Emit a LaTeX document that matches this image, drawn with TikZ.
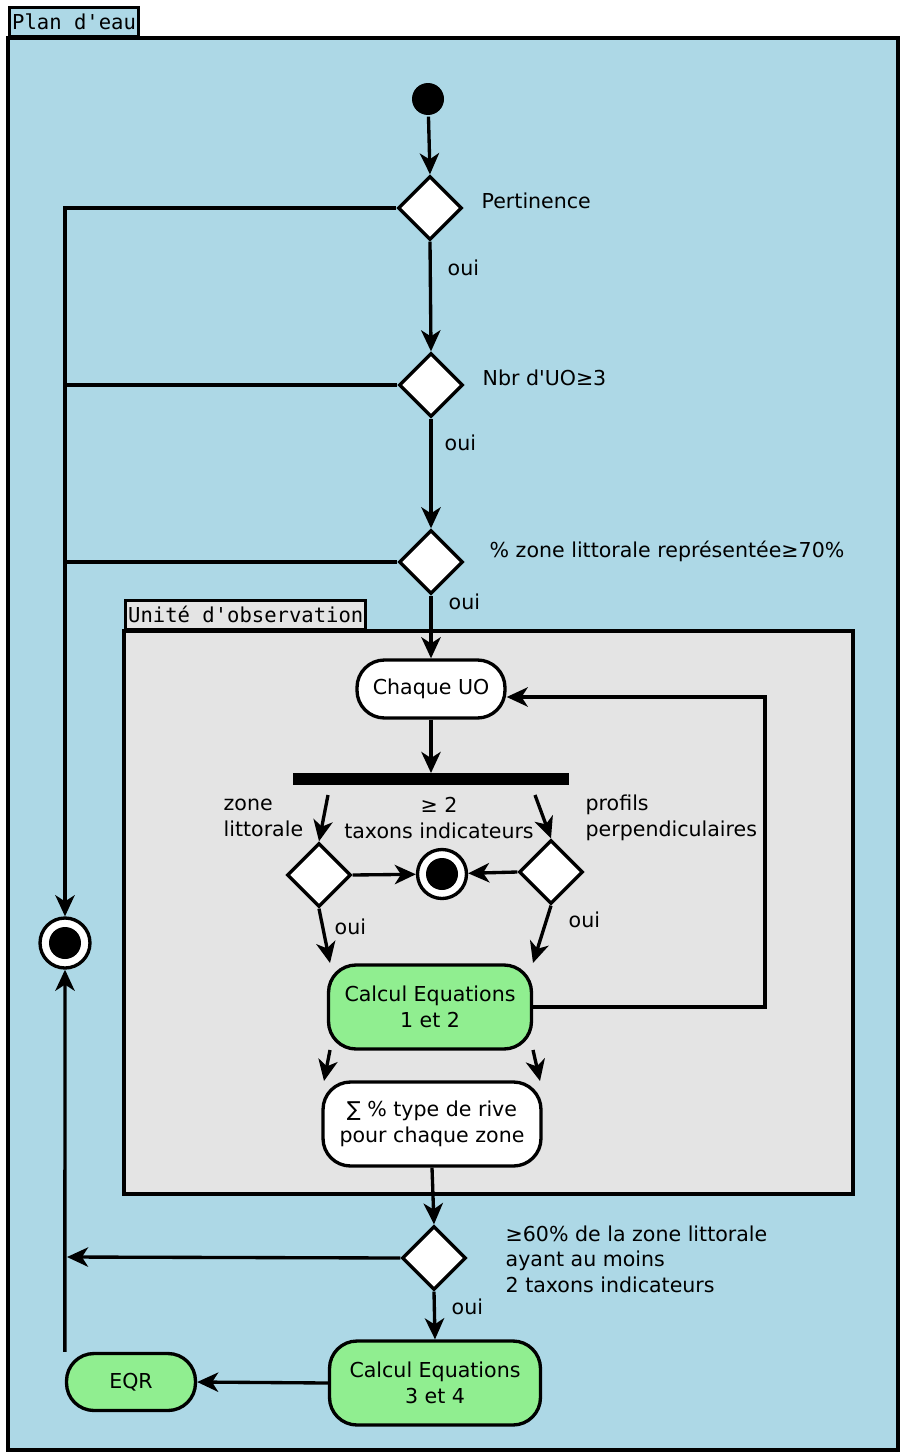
\documentclass[tikz,border=0pt]{standalone}
\usepackage{fontspec}
\setmainfont{DejaVu Sans}
\setmonofont{DejaVu Sans Mono}
\usetikzlibrary{arrows.meta, shapes.geometric}
\definecolor{eau}{HTML}{ADD8E6}
\definecolor{uo}{HTML}{E4E4E4}
\definecolor{calc}{HTML}{90EE90}
\tikzstyle{decision} = [diamond, draw, fill=white, aspect=1, inner sep=0pt,
    minimum width=1.28cm, minimum height=1.28cm]
\tikzstyle{action} = [rectangle, draw, fill=white, align=center,
    rounded corners=0.55cm, minimum height=1.68cm]
\tikzstyle{tab} = [rectangle, draw, font=\ttfamily\fontsize{11.7}{14}\selectfont,
    inner xsep=1.4pt, minimum height=0.58cm, anchor=south west]

\begin{document}
\begin{tikzpicture}[
x=0.02cm, y=-0.02cm,
line width=1.9pt,
every node/.style = {font=\fontsize{11.7}{14.6}\selectfont},
arr/.style = {-{Stealth[length=12pt, width=11pt, inset=3.5pt]}},
lbl/.style = {align=left, anchor=west, inner sep=0pt},
start/.style = {circle, fill=black, minimum size=0.64cm, inner sep=0pt},
stop/.style = {circle, draw, fill=white, minimum size=1cm, inner sep=0pt,
    path picture={\fill[black] (path picture bounding box.center) circle (0.32cm);}}
                        ]
\useasboundingbox (0,0) rectangle (901,1453);
% frames
\filldraw[fill=eau] (8,38) rectangle (898,1450);
\node[tab, fill=eau] (plan) at (8,38) {Plan d\textquotesingle eau};
\filldraw[fill=uo] (124,631) rectangle (853,1194);
\node[tab, fill=uo] (unite) at (124,631) {Unité d\textquotesingle observation};

% main column
\node [start] (debut) at (428,99) {};
\node [decision] (pert) at (430,208) {};
\node [decision] (nbr) at (431,385) {};
\node [decision] (zone) at (431,562) {};
\node [lbl] at (480,201) {Pertinence};
\node [lbl] at (481,378) {Nbr d\textquotesingle UO≥3};
\node [lbl] at (488,551) {\% zone littorale représentée≥70\%};
\node [lbl] at (446,268) {oui};
\node [lbl] at (443,443) {oui};
\node [lbl] at (447,602) {oui};
\draw[arr] (debut) -- (pert.north);
\draw[arr] (pert.south) -- (nbr.north);
\draw[arr] (nbr.south) -- (zone.north);

% left side, the end of the flow
\node [stop] (finA) at (65,943) {};
\draw[arr] (pert.west) -| (finA.north);
\draw (nbr.west) -- (nbr.west -| finA);
\draw (zone.west) -- (zone.west -| finA);

% each UO
\node [action, minimum width=2.96cm, minimum height=1.16cm] (chaque) at (431,689) {Chaque UO};
\draw[arr] (zone.south) -- (chaque.north);
\fill (293,773) rectangle (569,785);
\coordinate (barre) at (431,773);
\draw[arr] (chaque.south) -- (barre);

\node [decision] (dlit) at (319,875) {};
\node [decision] (dprof) at (551,872) {};
\node [stop, minimum size=0.98cm] (finB) at (442,874) {};
\coordinate (sg) at (328,795);
\coordinate (sd) at (535,795);
\draw[arr] (sg) -- (dlit.north);
\draw[arr] (sd) -- (dprof.north);
\draw[arr] (dlit.east) -- (finB);
\draw[arr] (dprof.west) -- (finB);
\node [lbl] at (222,818) {zone\\littorale};
\node [align=center, inner sep=0pt] at (439,818) {≥ 2\\taxons indicateurs};
\node [lbl] at (584,818) {profils\\perpendiculaires};
\node [lbl] at (333,927) {oui};
\node [lbl] at (567,920) {oui};

\node [action, fill=calc, minimum width=4.06cm] (calc12) at (430,1007) {Calcul Equations\\1 et 2};
\draw[arr] (dlit.south) -- (330,963);
\draw[arr] (dprof.south) -- (533,963);
\coordinate (boucle) at (765,697);
\draw[arr] (calc12.east) -| (boucle) -- (boucle -| chaque.east);

\node [action, minimum width=4.36cm] (somme) at (432,1124) {∑ \% type de rive\\pour chaque zone};
\coordinate (cg) at (330,1050);
\coordinate (cd) at (533,1050);
\draw[arr] (cg) -- (324,1081);
\draw[arr] (cd) -- (540,1081);

% global result
\node [decision] (soixante) at (434,1258) {};
\draw[arr] (somme.south) -- (soixante.north);
\node [lbl, align=left] at (504,1259) {≥60\% de la zone littorale\\ayant au moins\\2 taxons indicateurs};
\coordinate (retour) at (67,1257);
\draw[arr] (soixante.west) -- (retour);
\node [lbl] at (450,1307) {oui};
\node [action, fill=calc, minimum width=4.22cm] (calc34) at (435,1383) {Calcul Equations\\3 et 4};
\draw[arr] (soixante.south) -- (calc34.north);
\node [action, fill=calc, minimum width=2.58cm, minimum height=1.14cm] (eqr) at (131,1382) {EQR};
\draw[arr] (calc34.west) -- (eqr.east);
\draw[arr] (eqr.north west) -- (finA.south);
\end{tikzpicture}
\end{document}
